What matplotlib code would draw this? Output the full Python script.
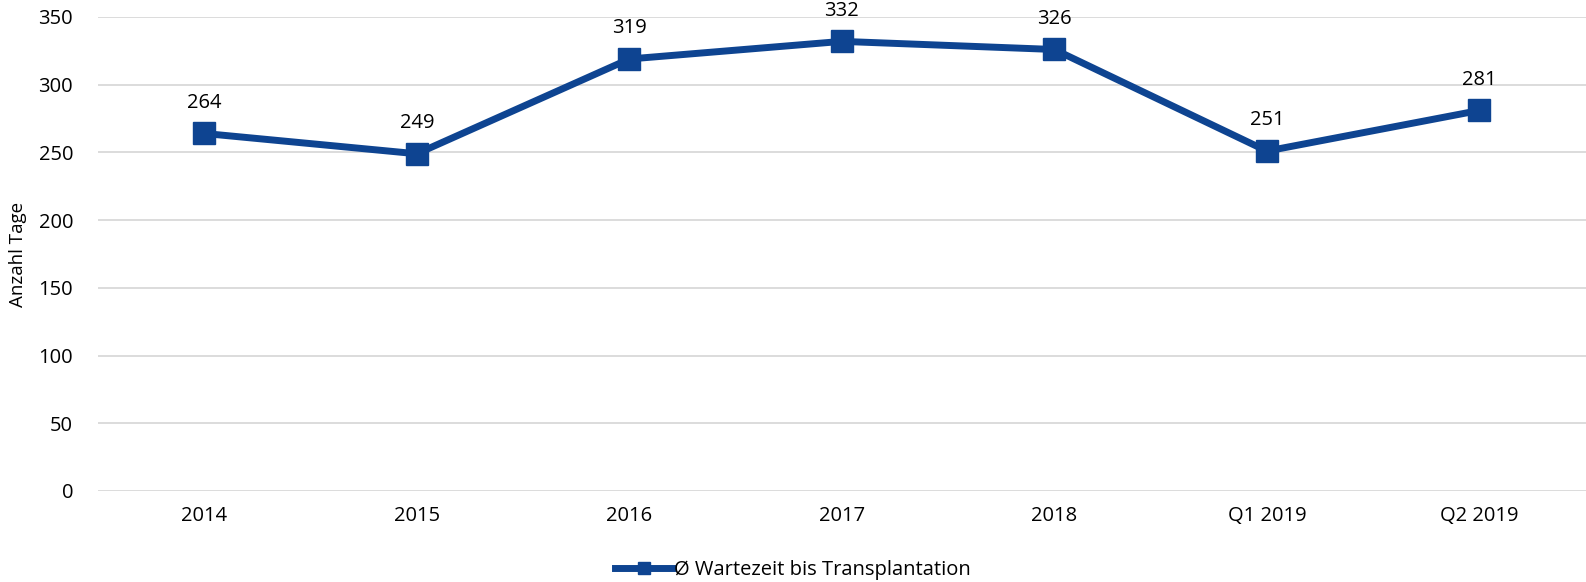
import matplotlib
matplotlib.use("Agg")
import matplotlib.pyplot as plt

categories = ["2014", "2015", "2016", "2017", "2018", "Q1 2019", "Q2 2019"]
values = [264, 249, 319, 332, 326, 251, 281]
series_name = "Ø Wartezeit bis Transplantation"
yticks = [0, 50, 100, 150, 200, 250, 300, 350]

plt.rcParams['font.family'] = ['Open Sans', 'DejaVu Sans']
color = "#0e4491"

fig = plt.figure(figsize=(15.86, 5.82), dpi=100)
ax = fig.add_axes([0.0618, 0.1564, 0.938, 0.8144])
x = list(range(len(categories)))
ax.plot(x, values, color=color, lw=5, marker="s", markersize=16, label=series_name, zorder=3)
for xi, v in zip(x, values):
    ax.annotate(str(v), (xi, v), xytext=(0, 15), textcoords="offset points",
                ha="center", va="bottom", fontsize=14.5, color="black")
ax.set_xlim(-0.5, len(categories) - 0.5)
ax.set_ylim(0, 350)
ax.set_yticks(yticks)
ax.set_xticks(x)
ax.set_xticklabels(categories)
ax.tick_params(axis="both", length=0, labelsize=14.5, colors="black")
ax.tick_params(axis="y", pad=18)
ax.tick_params(axis="x", pad=11)
ax.grid(axis="y", color="#d9d9d9", lw=1.3)
ax.set_axisbelow(True)
for s in ax.spines.values():
    s.set_visible(False)
ax.set_ylabel("Anzahl Tage", fontsize=13.5)
ax.yaxis.set_label_coords(-0.048, 0.5)

leg = fig.legend(handles=ax.get_lines(), labels=[series_name], loc="center",
                 bbox_to_anchor=(0.5, 0.02), frameon=False, fontsize=14.5,
                 handlelength=2.8, handletextpad=0.1, markerscale=0.55)
fig.savefig("out.png", dpi=100)
